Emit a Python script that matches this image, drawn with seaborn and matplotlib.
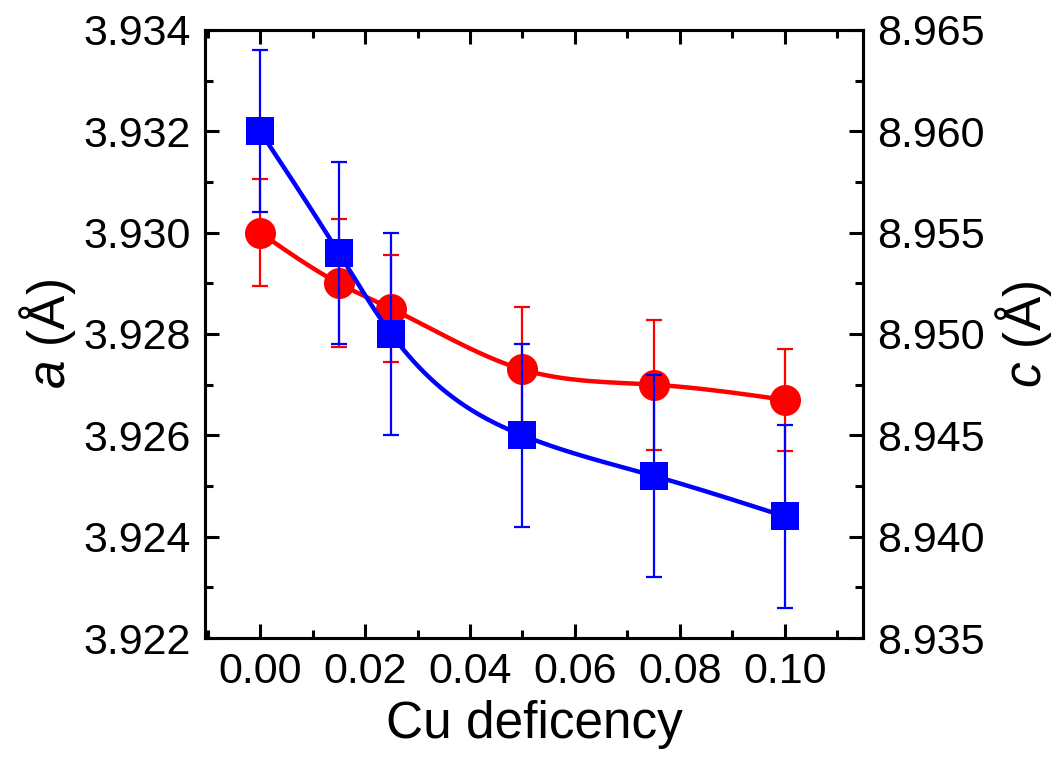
import numpy as np
import pandas as pd
import matplotlib
matplotlib.use("Agg")
import matplotlib.pyplot as plt
import seaborn as sns
from matplotlib.ticker import MultipleLocator, FormatStrFormatter

# ---- data ----
cu_def = [0.0, 0.015, 0.025, 0.05, 0.075, 0.10]
a_vals = [3.9300, 3.9290, 3.9285, 3.9273, 3.9270, 3.9267]
a_err = [0.00105, 0.00126, 0.00105, 0.00124, 0.00128, 0.00100]
c_vals = [8.9600, 8.9540, 8.9500, 8.9450, 8.9430, 8.9410]
c_err = [0.0040, 0.0045, 0.0050, 0.0045, 0.0050, 0.0045]
x_ticks = [0.00, 0.02, 0.04, 0.06, 0.08, 0.10]
a_ticks = [3.922, 3.924, 3.926, 3.928, 3.930, 3.932, 3.934]
c_ticks = [8.935, 8.940, 8.945, 8.950, 8.955, 8.960, 8.965]


def smooth(x, y, n=300):
    """Natural cubic spline connecting curve, like Origin's spline line."""
    x = np.asarray(x, float); y = np.asarray(y, float)
    N = len(x); h = np.diff(x)
    A = np.zeros((N, N)); r = np.zeros(N)
    A[0, 0] = 1; A[-1, -1] = 1
    for i in range(1, N - 1):
        A[i, i - 1] = h[i - 1]
        A[i, i] = 2 * (h[i - 1] + h[i])
        A[i, i + 1] = h[i]
        r[i] = 6 * ((y[i + 1] - y[i]) / h[i] - (y[i] - y[i - 1]) / h[i - 1])
    M = np.linalg.solve(A, r)
    xs = np.linspace(x[0], x[-1], n)
    idx = np.clip(np.searchsorted(x, xs) - 1, 0, N - 2)
    xi = x[idx]; xi1 = x[idx + 1]; hi = h[idx]
    ys = (M[idx] * (xi1 - xs) ** 3 / (6 * hi) + M[idx + 1] * (xs - xi) ** 3 / (6 * hi)
          + (y[idx] / hi - M[idx] * hi / 6) * (xi1 - xs)
          + (y[idx + 1] / hi - M[idx + 1] * hi / 6) * (xs - xi))
    return xs, ys


sns.set_theme(style="white")
plt.rcParams['font.family'] = ['Liberation Sans', 'DejaVu Sans']
plt.rcParams['mathtext.fontset'] = 'custom'
plt.rcParams['mathtext.it'] = 'Liberation Sans:italic'
plt.rcParams['mathtext.rm'] = 'Liberation Sans'
plt.rcParams['text.color'] = 'black'
plt.rcParams['axes.labelcolor'] = 'black'
plt.rcParams['xtick.color'] = 'black'
plt.rcParams['ytick.color'] = 'black'

fig = plt.figure(figsize=(10.53, 7.65), dpi=100)
ax = fig.add_axes([0.1947, 0.166, 0.6249, 0.7948])
ax2 = ax.twinx()

RED = "#FF0000"
BLUE = "#0000FF"

# red series (a) on left axis
df_a = pd.DataFrame({"x": cu_def, "y": a_vals})
xa, ya = smooth(cu_def, a_vals)
sns.lineplot(x=xa, y=ya, ax=ax, color=RED, lw=3.2, zorder=2)
ax.errorbar(cu_def, a_vals, yerr=a_err, fmt="none", ecolor=RED, elinewidth=1.6,
            capsize=6, capthick=1.6, zorder=2)
sns.scatterplot(data=df_a, x="x", y="y", ax=ax, color=RED, marker="o", s=500,
                edgecolor=RED, linewidth=0, zorder=3)

# blue series (c) on right axis
df_c = pd.DataFrame({"x": cu_def, "y": c_vals})
xc, yc = smooth(cu_def, c_vals)
sns.lineplot(x=xc, y=yc, ax=ax2, color=BLUE, lw=3.2, zorder=2)
ax2.errorbar(cu_def, c_vals, yerr=c_err, fmt="none", ecolor=BLUE, elinewidth=1.6,
             capsize=6, capthick=1.6, zorder=2)
sns.scatterplot(data=df_c, x="x", y="y", ax=ax2, color=BLUE, marker="s", s=380,
                edgecolor=BLUE, linewidth=0, zorder=3)

ax.set_xlim(-0.0105, 0.1149)
ax.set_ylim(3.922, 3.934)
ax2.set_ylim(8.935, 8.965)

ax.set_xticks(x_ticks)
ax.set_yticks(a_ticks)
ax2.set_yticks(c_ticks)
ax.xaxis.set_minor_locator(MultipleLocator(0.01))
ax.yaxis.set_minor_locator(MultipleLocator(0.001))
ax2.yaxis.set_minor_locator(MultipleLocator(0.0025))
ax.xaxis.set_major_formatter(FormatStrFormatter("%.2f"))
ax.yaxis.set_major_formatter(FormatStrFormatter("%.3f"))
ax2.yaxis.set_major_formatter(FormatStrFormatter("%.3f"))

fs_tick = 31
fs_lab = 37
ax.tick_params(axis="both", which="both", direction="in", colors="black",
               labelsize=fs_tick, width=2.2, top=True, right=False, left=True, bottom=True)
ax.tick_params(which="major", length=10, pad=10)
ax.tick_params(which="minor", length=6)
ax2.tick_params(axis="y", which="both", direction="in", colors="black",
                labelsize=fs_tick, width=2.2, right=True, left=False)
ax2.tick_params(which="major", length=10, pad=10)
ax2.tick_params(which="minor", length=6)

for a_ in (ax, ax2):
    for s in a_.spines.values():
        s.set_linewidth(2.2)
        s.set_color("black")

ax.set_xlabel("Cu deficency", fontsize=fs_lab, labelpad=6, color="black")
ax.set_ylabel(r"$a$ (Å)", fontsize=fs_lab, labelpad=4, color="black")
ax2.set_ylabel(r"$c$ (Å)", fontsize=fs_lab, labelpad=6, rotation=90, color="black")

ax.set_zorder(1)
ax2.set_zorder(2)
ax.patch.set_visible(True)
ax2.patch.set_visible(False)

fig.savefig("out.png", dpi=100)
